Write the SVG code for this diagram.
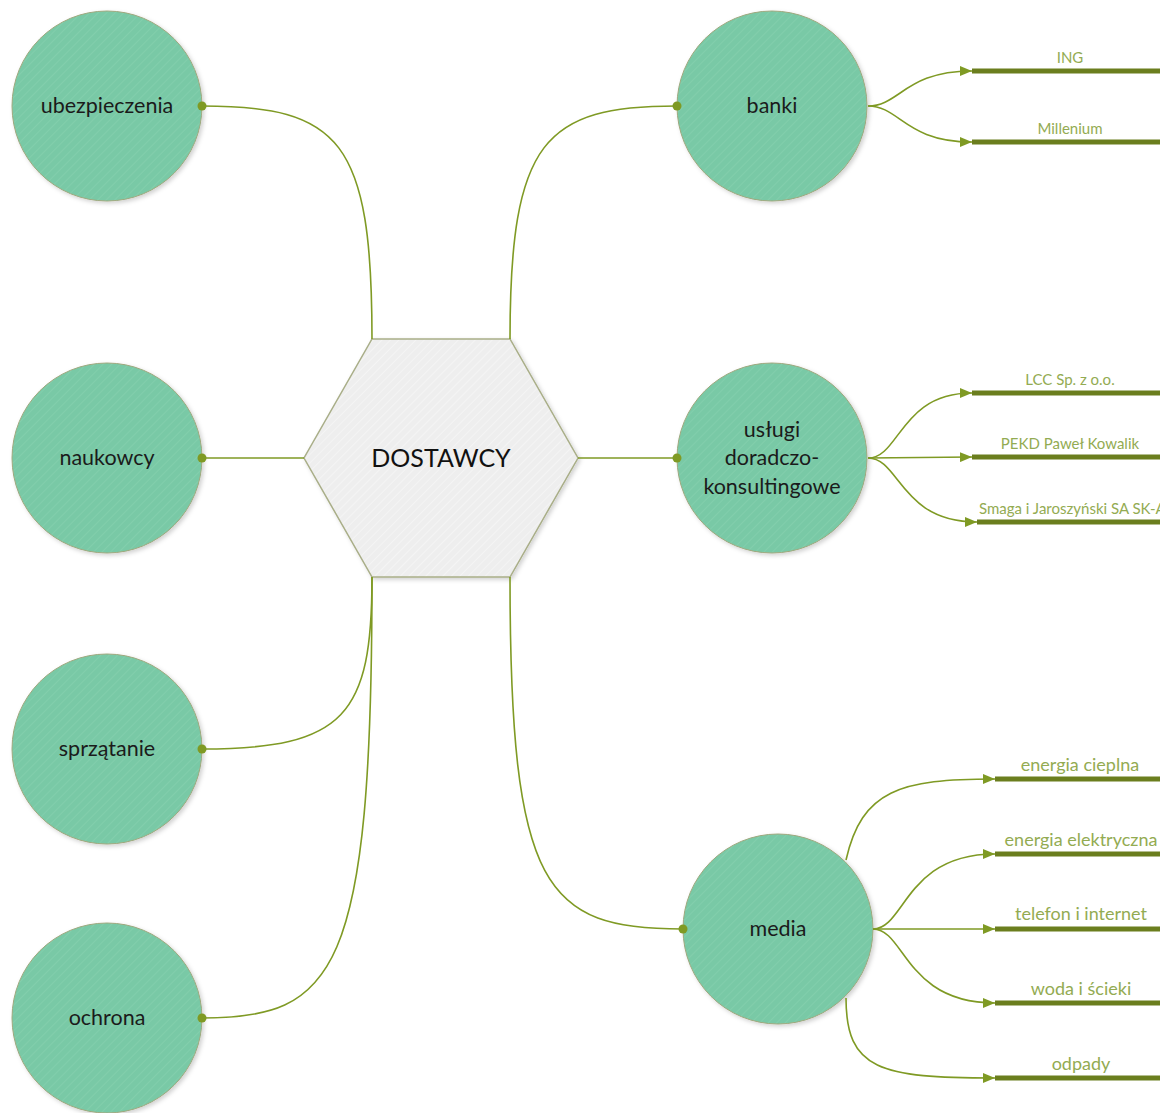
<svg xmlns="http://www.w3.org/2000/svg" width="1160" height="1113" viewBox="0 0 1160 1113">
  <style>
    .node circle { fill: url(#greenFill); stroke: #9fa87e; stroke-width: 1; filter: url(#shadow); }
    .node text { font-family: Lato, "Noto Sans", sans-serif; font-size: 21.5px; fill: #1b1b1b; text-anchor: middle; }
    .hub polygon { fill: url(#greyFill); stroke: #a9ae88; stroke-width: 1.5; filter: url(#shadow); }
    .hub text { font-family: Lato, "Noto Sans", sans-serif; font-size: 25px; fill: #111; text-anchor: middle; }
    .link { fill: none; stroke: #7f9a24; stroke-width: 1.6; }
    .arrow { fill: none; stroke: #7f9a24; stroke-width: 1.6; marker-end: url(#tip); }
    .bar { stroke: #6b7e1e; stroke-width: 5; }
    .dot { fill: #7f9a24; }
    .leaf { font-family: Lato, "Noto Sans", sans-serif; fill: #93ab52; text-anchor: middle; }
    .small { font-size: 15px; }
    .big { font-size: 18px; }
  </style>
  <defs>
    <pattern id="greenFill" width="6" height="6" patternUnits="userSpaceOnUse" patternTransform="rotate(45)">
      <rect width="6" height="6" fill="#79c9a6"/>
      <line x1="0" y1="0" x2="0" y2="6" stroke="#82ceac" stroke-width="2"/>
    </pattern>
    <pattern id="greyFill" width="6" height="6" patternUnits="userSpaceOnUse" patternTransform="rotate(45)">
      <rect width="6" height="6" fill="#eeeeee"/>
      <line x1="0" y1="0" x2="0" y2="6" stroke="#f4f4f4" stroke-width="2"/>
    </pattern>
    <filter id="shadow" x="-20%" y="-20%" width="140%" height="140%">
      <feDropShadow dx="2" dy="2" stdDeviation="2" flood-color="#000" flood-opacity="0.18"/>
    </filter>
    <marker id="tip" viewBox="0 0 12 10" refX="12" refY="5" markerWidth="12" markerHeight="10" markerUnits="userSpaceOnUse" orient="auto">
      <path d="M0,0 L12,5 L0,10 z" fill="#7f9a24"/>
    </marker>
  </defs>

  <!-- central hub -->
  <g id="dostawcy" class="hub">
    <polygon points="372,339 510,339 578,458 510,577 372,577 304,458"/>
    <text x="441" y="467">DOSTAWCY</text>
  </g>

  <!-- left nodes -->
  <g id="ubezpieczenia" class="node">
    <circle cx="107" cy="106" r="95"/>
    <text x="107" y="113">ubezpieczenia</text>
  </g>
  <g id="naukowcy" class="node">
    <circle cx="107" cy="458" r="95"/>
    <text x="107" y="465">naukowcy</text>
  </g>
  <g id="sprzatanie" class="node">
    <circle cx="107" cy="749" r="95"/>
    <text x="107" y="756">sprzątanie</text>
  </g>
  <g id="ochrona" class="node">
    <circle cx="107" cy="1018" r="95"/>
    <text x="107" y="1025">ochrona</text>
  </g>

  <!-- right nodes -->
  <g id="banki" class="node">
    <circle cx="772" cy="106" r="95"/>
    <text x="772" y="113">banki</text>
  </g>
  <g id="uslugi" class="node">
    <circle cx="772" cy="458" r="95"/>
    <text x="772" y="437">usługi</text>
    <text x="772" y="465">doradczo-</text>
    <text x="772" y="494">konsultingowe</text>
  </g>
  <g id="media" class="node">
    <circle cx="778" cy="929" r="95"/>
    <text x="778" y="936">media</text>
  </g>

  <!-- connectors -->
  <g id="connectors">
    <path class="link" d="M372,339 C372,140 340,106 202,106"/>
    <path class="link" d="M510,339 C510,140 545,106 677,106"/>
    <path class="link" d="M304,458 L202,458"/>
    <path class="link" d="M578,458 L677,458"/>
    <path class="link" d="M372,577 C372,715 345,749 202,749"/>
    <path class="link" d="M372,577 C372,975 335,1018 202,1018"/>
    <path class="link" d="M510,577 C510,890 545,929 683,929"/>
    <circle class="dot" cx="202" cy="106" r="4.5"/>
    <circle class="dot" cx="677" cy="106" r="4.5"/>
    <circle class="dot" cx="202" cy="458" r="4.5"/>
    <circle class="dot" cx="677" cy="458" r="4.5"/>
    <circle class="dot" cx="202" cy="749" r="4.5"/>
    <circle class="dot" cx="202" cy="1018" r="4.5"/>
    <circle class="dot" cx="683" cy="929" r="4.5"/>

    <!-- banki branches -->
    <path class="arrow" d="M868,106 C900,106 905,71 972,71"/>
    <path class="arrow" d="M868,106 C900,106 905,142 972,142"/>
    <!-- usługi branches -->
    <path class="arrow" d="M868,458 C900,458 900,393 972,393"/>
    <path class="arrow" d="M868,458 L972,457"/>
    <path class="arrow" d="M868,458 C900,458 900,522 977,522"/>
    <!-- media branches -->
    <path class="arrow" d="M846,860 C862,790 900,779 995,779"/>
    <path class="arrow" d="M873,929 C905,929 905,854 995,854"/>
    <path class="arrow" d="M873,929 L995,929"/>
    <path class="arrow" d="M873,929 C905,929 905,1003 995,1003"/>
    <path class="arrow" d="M846,998 C846,1070 880,1078 995,1078"/>

    <!-- underline bars -->
    <line class="bar" x1="972" y1="71" x2="1160" y2="71"/>
    <line class="bar" x1="972" y1="142" x2="1160" y2="142"/>
    <line class="bar" x1="972" y1="393" x2="1160" y2="393"/>
    <line class="bar" x1="972" y1="457" x2="1160" y2="457"/>
    <line class="bar" x1="977" y1="522" x2="1160" y2="522"/>
    <line class="bar" x1="995" y1="779" x2="1160" y2="779"/>
    <line class="bar" x1="995" y1="854" x2="1160" y2="854"/>
    <line class="bar" x1="995" y1="929" x2="1160" y2="929"/>
    <line class="bar" x1="995" y1="1003" x2="1160" y2="1003"/>
    <line class="bar" x1="995" y1="1078" x2="1160" y2="1078"/>
  </g>

  <!-- leaf labels -->
  <g id="banki-leaves">
    <text class="leaf small" x="1070" y="63">ING</text>
    <text class="leaf small" x="1070" y="134">Millenium</text>
  </g>
  <g id="uslugi-leaves">
    <text class="leaf small" x="1070" y="385">LCC Sp. z o.o.</text>
    <text class="leaf small" x="1070" y="449">PEKD Paweł Kowalik</text>
    <text class="leaf small" x="979" y="514" style="text-anchor:start">Smaga i Jaroszyński SA SK-A</text>
  </g>
  <g id="media-leaves">
    <text class="leaf big" x="1080" y="771">energia cieplna</text>
    <text class="leaf big" x="1081" y="846">energia elektryczna</text>
    <text class="leaf big" x="1081" y="920">telefon i internet</text>
    <text class="leaf big" x="1081" y="995">woda i ścieki</text>
    <text class="leaf big" x="1081" y="1070">odpady</text>
  </g>
</svg>
